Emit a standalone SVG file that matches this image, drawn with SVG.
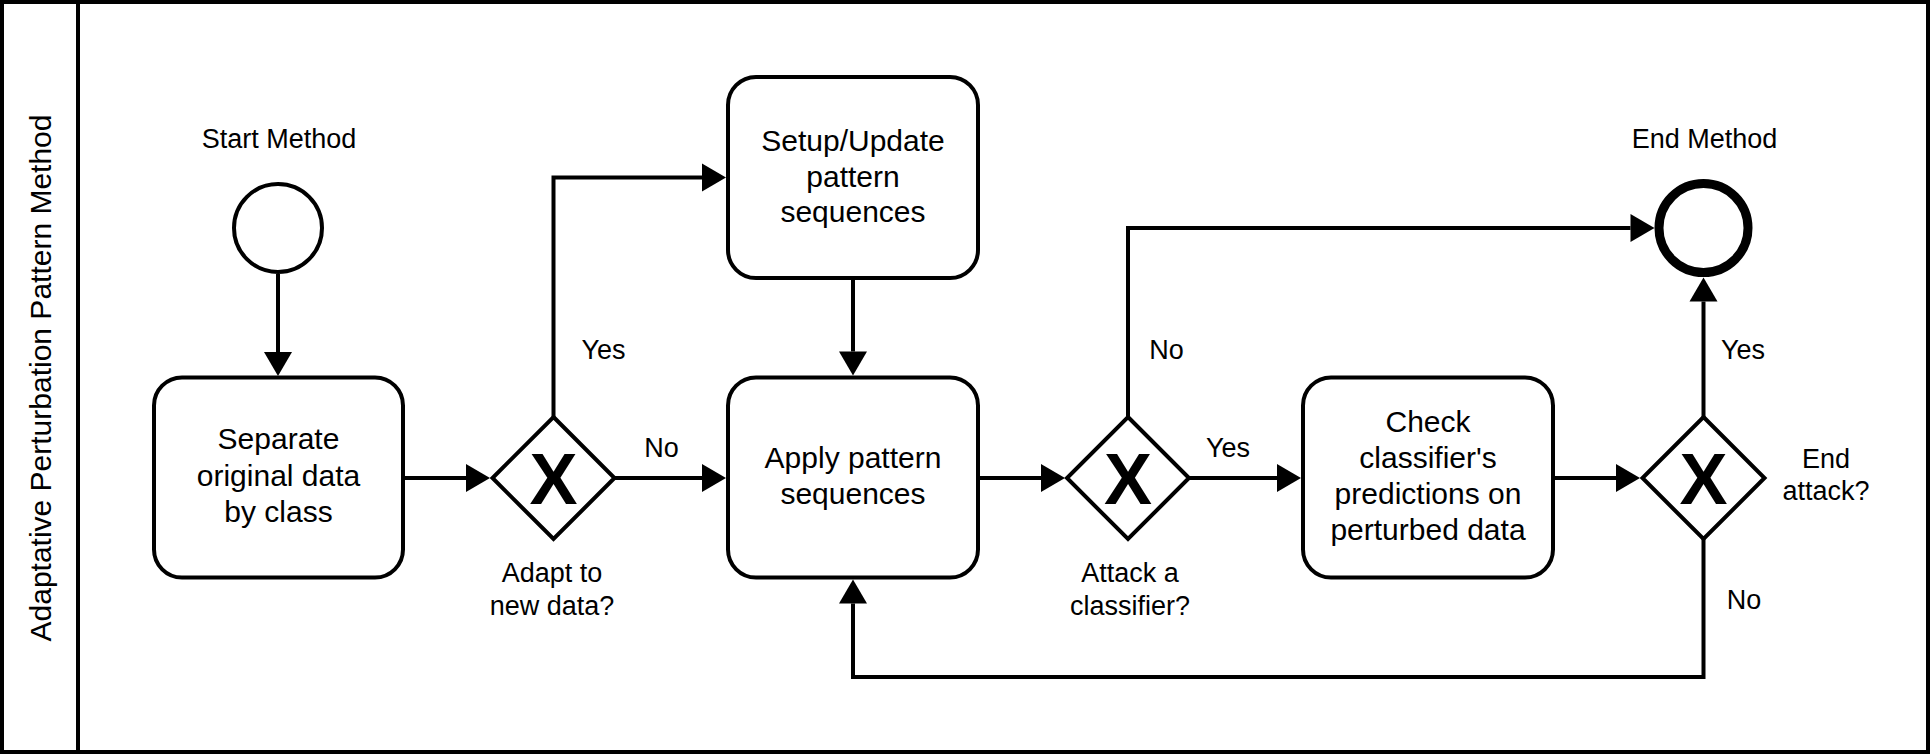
<svg xmlns="http://www.w3.org/2000/svg" width="1931" height="756" viewBox="0 0 1931 756">
  <style>
    .shape { fill: #ffffff; stroke: #000000; stroke-width: 4; }
    .edge { fill: none; stroke: #000000; stroke-width: 4; stroke-linejoin: miter; }
    .lbl { font-family: "Liberation Sans", Arial, sans-serif; font-size: 27px; fill: #000000; }
    .task { font-family: "Liberation Sans", Arial, sans-serif; font-size: 30px; fill: #000000; text-anchor: middle; }
    .mark { font-family: "Liberation Sans", Arial, sans-serif; font-size: 72px; font-weight: bold; fill: #000000; text-anchor: middle; }
    .mid { text-anchor: middle; }
  </style>
  <defs>
    <marker id="arrow" markerUnits="userSpaceOnUse" markerWidth="24" markerHeight="28" refX="0" refY="14" orient="auto" overflow="visible">
      <path d="M0,0 L24,14 L0,28 Z" fill="#000000"/>
    </marker>
  </defs>

  <rect width="1931" height="756" fill="#ffffff"/>

  <g id="pool">
    <rect x="2" y="2" width="1926" height="750" fill="none" stroke="#000000" stroke-width="4"/>
    <line x1="78" y1="2" x2="78" y2="752" stroke="#000000" stroke-width="4"/>
    <text class="task" transform="translate(50.5,378) rotate(-90)">Adaptative Perturbation Pattern Method</text>
  </g>

  <g id="connectors">
    <path class="edge" d="M278,274 V352" marker-end="url(#arrow)"/>
    <path class="edge" d="M404,478 H466" marker-end="url(#arrow)"/>
    <g id="edge-adapt-yes">
      <path class="edge" d="M553.5,417 V177.5 H702" marker-end="url(#arrow)"/>
      <text class="lbl" x="581.5" y="359.3">Yes</text>
    </g>
    <g id="edge-adapt-no">
      <path class="edge" d="M614.5,478 H702" marker-end="url(#arrow)"/>
      <text class="lbl" x="644.3" y="457.3">No</text>
    </g>
    <path class="edge" d="M853,279.5 V351.5" marker-end="url(#arrow)"/>
    <path class="edge" d="M980,478 H1041" marker-end="url(#arrow)"/>
    <g id="edge-attack-yes">
      <path class="edge" d="M1189,478 H1277" marker-end="url(#arrow)"/>
      <text class="lbl" x="1206" y="456.7">Yes</text>
    </g>
    <g id="edge-attack-no">
      <path class="edge" d="M1128,417 V228 H1630.5" marker-end="url(#arrow)"/>
      <text class="lbl" x="1149.3" y="359.3">No</text>
    </g>
    <path class="edge" d="M1555,478 H1616" marker-end="url(#arrow)"/>
    <g id="edge-end-yes">
      <path class="edge" d="M1703.5,417 V301.5" marker-end="url(#arrow)"/>
      <text class="lbl" x="1721" y="359.3">Yes</text>
    </g>
    <g id="edge-end-no">
      <path class="edge" d="M1703.5,539 V677 H853 V603.5" marker-end="url(#arrow)"/>
      <text class="lbl" x="1726.7" y="609">No</text>
    </g>
  </g>

  <g id="start-event">
    <circle class="shape" cx="278" cy="228" r="44"/>
    <text class="lbl mid" x="279" y="148">Start Method</text>
  </g>

  <g id="task-separate">
    <rect class="shape" x="154" y="377.5" width="249" height="200" rx="28" ry="28"/>
    <text class="task" x="278.5" y="449.3">Separate</text>
    <text class="task" x="278.5" y="485.7">original data</text>
    <text class="task" x="278.5" y="521.7">by class</text>
  </g>

  <g id="gateway-adapt">
    <path class="shape" d="M553.5,417 L614.5,478 L553.5,539 L492.5,478 Z"/>
    <text class="mark" x="553.5" y="503.5">X</text>
    <text class="lbl mid" x="552" y="582">Adapt to</text>
    <text class="lbl mid" x="552" y="614.5">new data?</text>
  </g>

  <g id="task-setup">
    <rect class="shape" x="728" y="77" width="250" height="201" rx="28" ry="28"/>
    <text class="task" x="853" y="150.7">Setup/Update</text>
    <text class="task" x="853" y="186.7">pattern</text>
    <text class="task" x="853" y="222.3">sequences</text>
  </g>

  <g id="task-apply">
    <rect class="shape" x="728" y="377.5" width="250" height="200" rx="28" ry="28"/>
    <text class="task" x="853" y="468.3">Apply pattern</text>
    <text class="task" x="853" y="504">sequences</text>
  </g>

  <g id="gateway-attack">
    <path class="shape" d="M1128,417 L1189,478 L1128,539 L1067,478 Z"/>
    <text class="mark" x="1128" y="503.5">X</text>
    <text class="lbl mid" x="1130" y="582">Attack a</text>
    <text class="lbl mid" x="1130" y="614.5">classifier?</text>
  </g>

  <g id="task-check">
    <rect class="shape" x="1303" y="377.5" width="250" height="200" rx="28" ry="28"/>
    <text class="task" x="1428" y="431.7">Check</text>
    <text class="task" x="1428" y="467.7">classifier's</text>
    <text class="task" x="1428" y="504">predictions on</text>
    <text class="task" x="1428" y="540">perturbed data</text>
  </g>

  <g id="gateway-end">
    <path class="shape" d="M1703.5,417 L1764.5,478 L1703.5,539 L1642.5,478 Z"/>
    <text class="mark" x="1703.5" y="503.5">X</text>
    <text class="lbl mid" x="1826" y="467.7">End</text>
    <text class="lbl mid" x="1826" y="500">attack?</text>
  </g>

  <g id="end-event">
    <circle cx="1703.5" cy="228" r="44.5" fill="#ffffff" stroke="#000000" stroke-width="9"/>
    <text class="lbl mid" x="1704.5" y="147.7">End Method</text>
  </g>
</svg>
